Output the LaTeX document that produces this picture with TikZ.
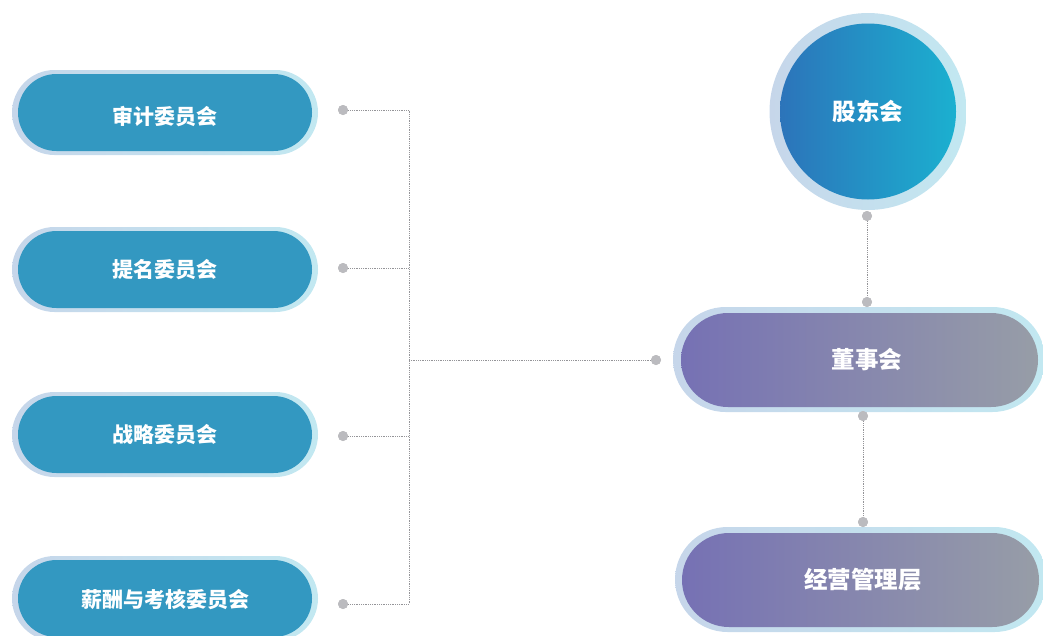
\documentclass[tikz,border=0pt]{standalone}
\usepackage{fontspec}
\newfontfamily\cjk{Noto Sans CJK SC}
\definecolor{ringL}{HTML}{C6D6EA}
\definecolor{ringR}{HTML}{C2E8F1}
\definecolor{tealF}{HTML}{3398C1}
\definecolor{circL}{HTML}{2C74BA}
\definecolor{circR}{HTML}{1BB0D0}
\definecolor{purL}{HTML}{7671B4}
\definecolor{purR}{HTML}{979DA7}
\definecolor{dotC}{HTML}{BBBBBF}
\definecolor{lineC}{HTML}{949498}
\begin{document}
\begin{tikzpicture}[x=1pt,y=-1pt,
  ring/.style={draw=none, left color=ringL, right color=ringR, inner sep=0pt},
  lpillout/.style={ring, rectangle, rounded corners=42.5pt, minimum width=306pt, minimum height=85pt},
  lpill/.style={draw=none, fill=tealF, rectangle, rounded corners=38.5pt, minimum width=294pt, minimum height=77pt, inner sep=0pt},
  ltext/.style={text=white, inner sep=0pt, font=\cjk\bfseries\fontsize{21}{21}\selectfont},
  rpillout/.style={ring, rectangle, rounded corners=52.5pt, minimum width=372pt, minimum height=105pt},
  rpill/.style={draw=none, left color=purL, right color=purR, rectangle, rounded corners=47pt, minimum width=357pt, minimum height=94pt, inner sep=0pt},
  rtext/.style={text=white, inner sep=0pt, font=\cjk\bfseries\fontsize{23.5}{23.5}\selectfont},
  dotn/.style={circle, fill=dotC, draw=none, minimum size=10pt, inner sep=0pt},
  conn/.style={draw=lineC, line width=1pt, dash pattern=on 1pt off 0.8pt},
]
\useasboundingbox (0,0) rectangle (1043,635);

% left committee pills
\node[lpillout] (o1) at (165,112.5) {};
\node[lpill] (n1) at (165,112.5) {};
\node[ltext] (t1) at (165,116) {审计委员会};
\node[lpillout] (o2) at (165,269.5) {};
\node[lpill] (n2) at (165,269.5) {};
\node[ltext] (t2) at (165,270) {提名委员会};
\node[lpillout] (o3) at (165,434.5) {};
\node[lpill] (n3) at (165,434.5) {};
\node[ltext] (t3) at (165,435) {战略委员会};
\node[lpillout] (o4) at (165,598.5) {};
\node[lpill] (n4) at (165,598.5) {};
\node[ltext] (t4) at (165,600) {薪酬与考核委员会};

% shareholders circle
\node[ring, circle, minimum size=197pt] (oc) at (868,111.5) {};
\node[circle, draw=none, left color=circL, right color=circR, minimum size=176pt, inner sep=0pt, text=white, font=\cjk\bfseries\fontsize{23.5}{23.5}\selectfont] (gd) at (868,111.5) {股东会};

% board pill
\node[rpillout] (ob) at (859,359.5) {};
\node[rpill] (bd) at (859.5,360) {};
\node[rtext] (bdt) at (867,360) {董事会};

% management pill
\node[rpillout] (om) at (861,579.5) {};
\node[rpill] (mg) at (860.5,580) {};
\node[rtext] (mgt) at (863,580) {经营管理层};

% junction coordinate
\coordinate (jm) at (409,360);

% connector dots
\node[dotn] (d1) at (343,110) {};
\node[dotn] (d2) at (343,268) {};
\node[dotn] (d3) at (343,436) {};
\node[dotn] (d4) at (343,604) {};
\node[dotn] (db) at (656,360) {};
\node[dotn] (s1) at (867,216) {};
\node[dotn] (s2) at (867,302) {};
\node[dotn] (m1) at (863,416) {};
\node[dotn] (m2) at (863,522) {};

% connectors
\draw[conn] (d1.center) -| (jm);
\draw[conn] (d4.center) -| (jm);
\draw[conn] (d2.center) -- (d2.center -| jm);
\draw[conn] (d3.center) -- (d3.center -| jm);
\draw[conn] (jm) -- (db.center);
\draw[conn] (s1.center) -- (s2.center);
\draw[conn] (m1.center) -- (m2.center);

% redraw dots over line ends
\foreach \d in {d1,d2,d3,d4,db,s1,s2,m1,m2}{
  \fill[dotC] (\d) circle[radius=5pt];
}
\end{tikzpicture}
\end{document}
